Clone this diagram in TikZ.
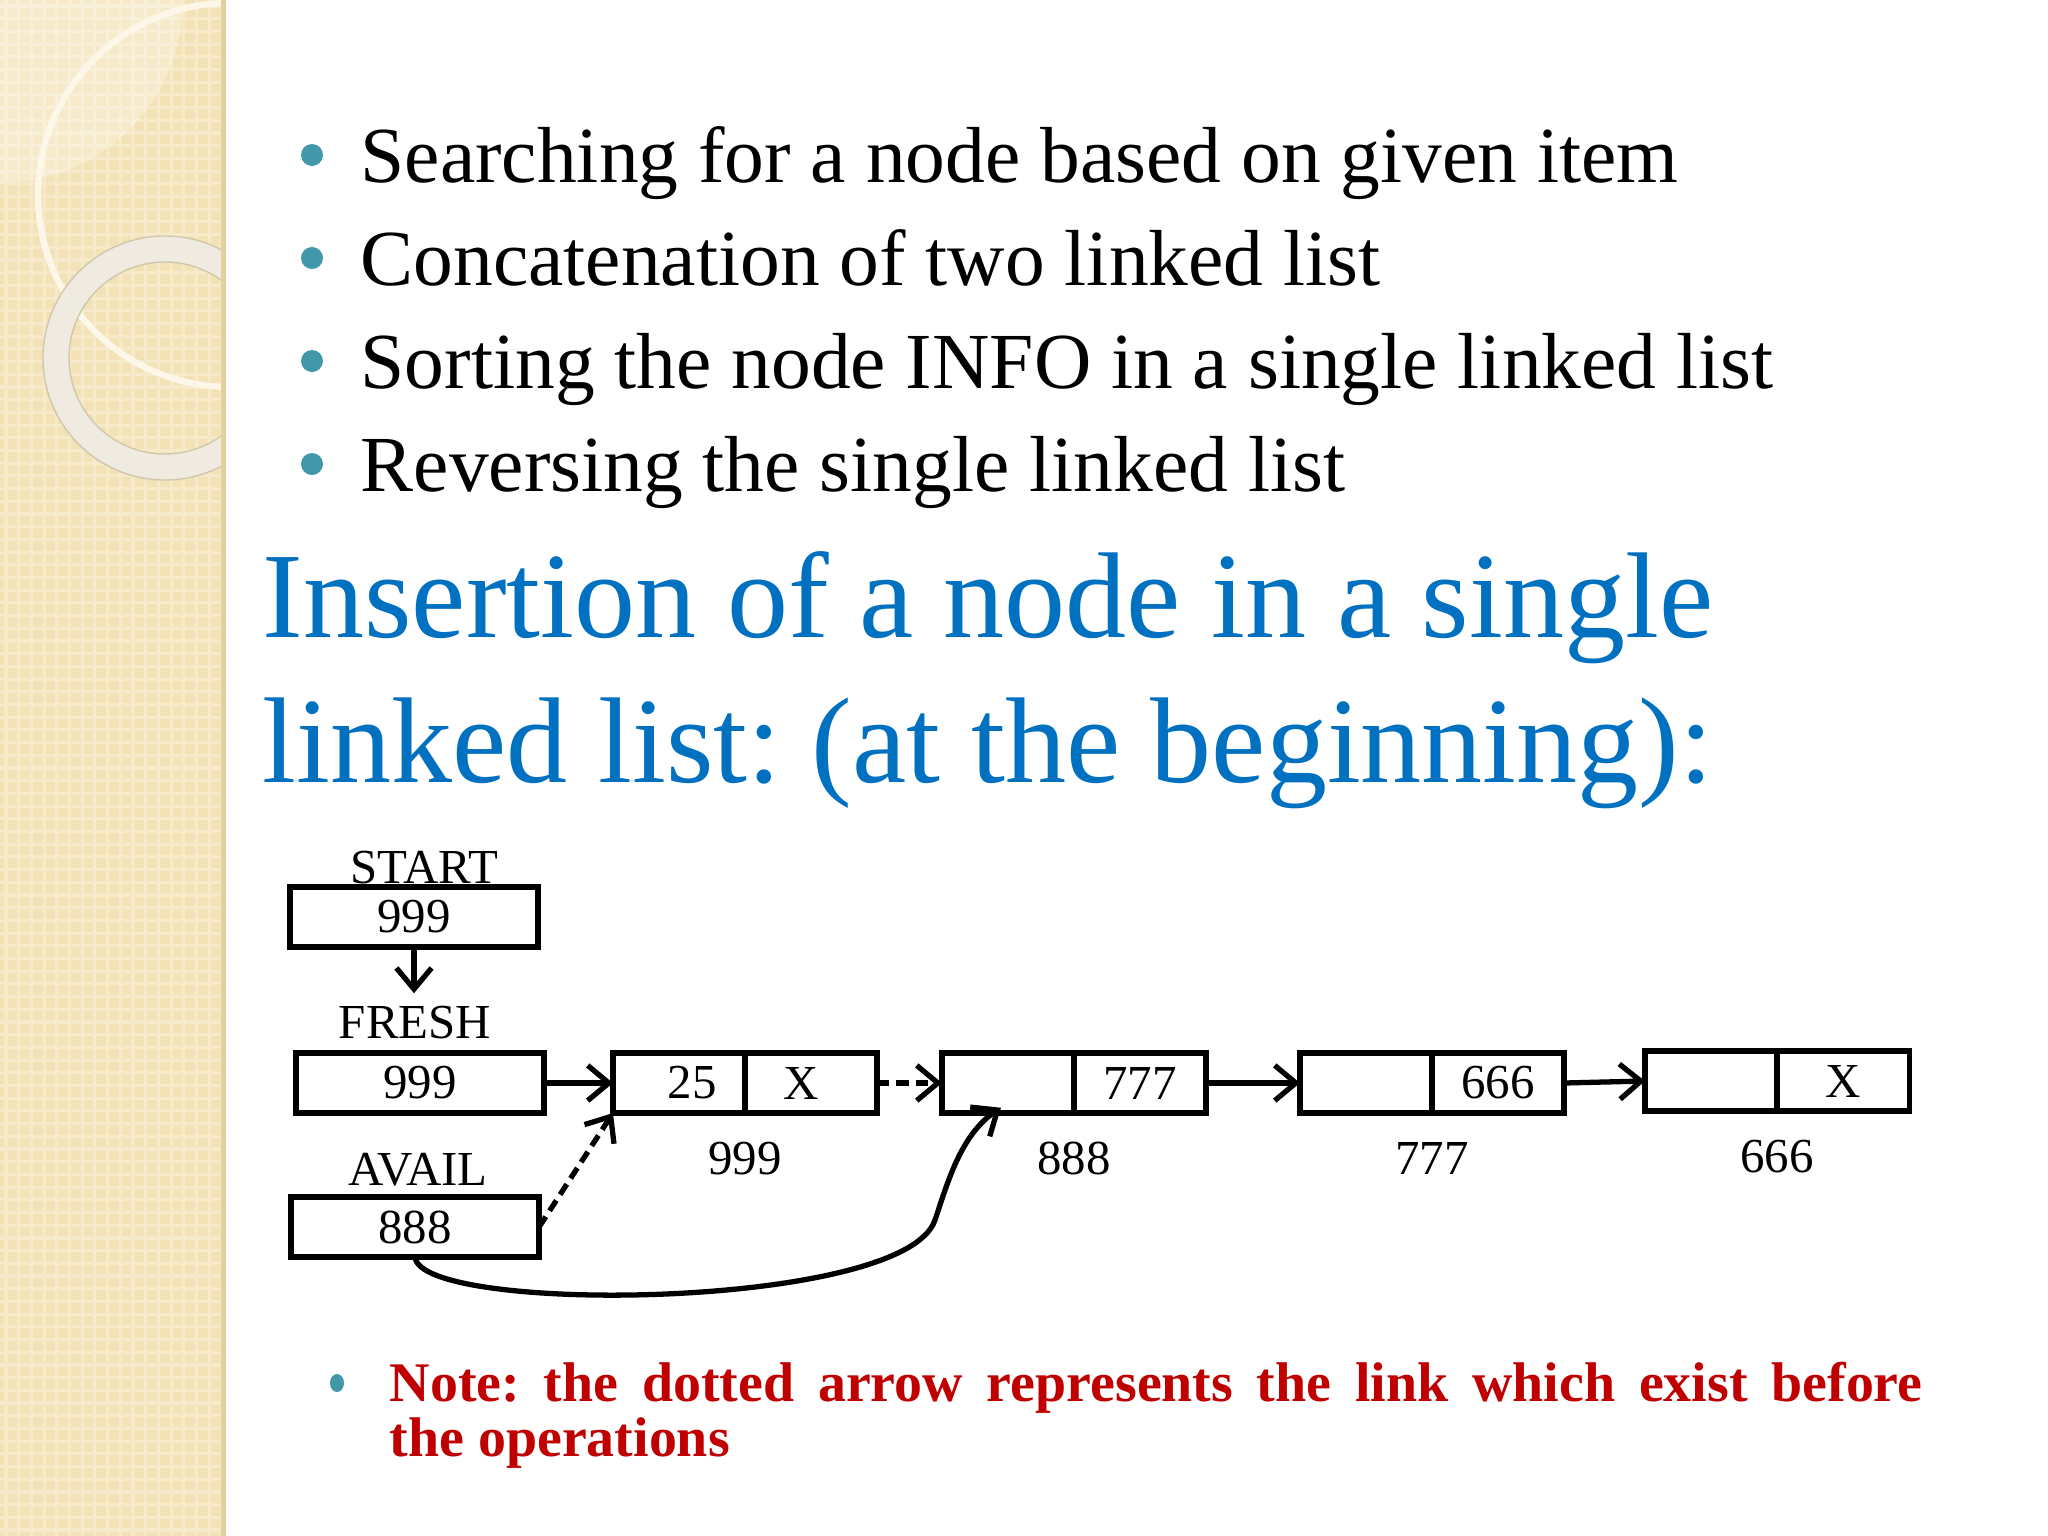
\documentclass[tikz,border=0pt]{standalone}
\usepackage{fontspec}
\setmainfont{Liberation Serif}
\usepackage{tikz}
\usetikzlibrary{positioning,arrows.meta}
\definecolor{stripbeige}{HTML}{F3E2B5}
\definecolor{striplight}{HTML}{F7EACA}
\definecolor{stripedge}{HTML}{E3D09E}
\definecolor{ringwhite}{HTML}{FCF7E9}
\definecolor{ringgrey}{HTML}{EFECE4}
\definecolor{ringedge}{HTML}{D2C7AB}
\definecolor{bullet}{HTML}{4298A8}
\definecolor{titleblue}{HTML}{0070C0}
\definecolor{notered}{HTML}{C00000}
\frenchspacing

\begin{document}
\begin{tikzpicture}[x=0.01cm,y=-0.01cm,
			box/.style={
				draw,
				line width=1.5pt,
				minimum width=2.48cm,
				minimum height=0.6cm,
				inner sep=0pt,
				outer sep=0pt,
				font=\fontsize{13.9}{16}\selectfont
			},
			cell/.style={box,minimum width=1.32cm},
			lbl/.style={anchor=base,font=\fontsize{13.9}{16}\selectfont},
			item/.style={anchor=base west,inner sep=0pt,font=\fontsize{22.6}{26}\selectfont},
			title/.style={anchor=base west,inner sep=0pt,text=titleblue,font=\fontsize{34.7}{40}\selectfont},
			arrow/.style={-{Straight Barb[length=6pt,width=10pt]},line width=1.5pt},
			oldlink/.style={arrow,dash pattern=on 3.5pt off 2pt}
			]
			
			\useasboundingbox (0,0) rectangle (2048,1536);
			\fill[white] (0,0) rectangle (2048,1536);
			
			% left strip
			\fill[stripbeige] (0,0) rectangle (225,1536);
			\begin{scope}
				\clip (0,0) rectangle (225,1536);
				\foreach \k in {0,...,120}
				\draw[striplight,line width=0.9pt] (0,\k*12.7+6) -- (225,\k*12.7+6);
				\foreach \k in {0,...,17}
				\draw[striplight,line width=0.9pt] (\k*12.7+6,0) -- (\k*12.7+6,1536);
				\fill[white,opacity=0.3] (0,0) circle (183);
				\draw[ringwhite,line width=1.8pt] (230,195) circle (192);
				\draw[ringgrey,line width=7.4pt,opacity=0.92] (165,358) circle (109);
				\draw[ringedge,line width=0.4pt] (165,358) circle (122) (165,358) circle (96);
			\end{scope}
			\fill[stripedge] (221,0) rectangle (226,1536);
			
			% bullet list
			\foreach \y/\t in {182/Searching for a node based on given item,
				285/Concatenation of two linked list,
				388/Sorting the node INFO in a single linked list,
				491/Reversing the single linked list}{
				\fill[bullet] (312,\y-27) circle (11);
				\node[item] (item\y) at (360,\y) {\t};
			}
			
			\node[title] (title1) at (262,637) {Insertion of a node in a single};
			\node[title] (title2) at (262,782) {linked list: (at the beginning):};
			
			% pointers
			\node[lbl] (startlbl) at (424,883) {START};
			\node[box] (start) at (414,917) {999};
			\node[lbl] (freshlbl) at (415,1038) {FRESH};
			\node[box] (fresh) at (420,1083) {999};
			\node[lbl] (availlbl) at (418,1185) {AVAIL};
			\node[box] (avail) at (415,1227) {888};
			
			% list nodes
			\node[cell] (a1) at (679,1083) {\hspace*{0.26cm}25};
			\node[cell,right=0pt of a1] (a2) {X\hspace*{0.2cm}};
			\node[cell] (b1) at (1008,1083) {};
			\node[cell,right=0pt of b1] (b2) {777};
			\node[cell] (c1) at (1366,1083) {};
			\node[cell,right=0pt of c1] (c2) {666};
			\node[cell] (d1) at (1711,1081) {};
			\node[cell,right=0pt of d1] (d2) {X};
			
			\foreach \n/\t in {a/999,b/888,c/777,d/666}
			\node[lbl] (addr\n) at ([yshift=-17.6pt]\n1.south east) {\t};
			
			\draw[arrow] (start.south) -- (start.south |- freshlbl.north);
			\draw[arrow] (fresh.east) -- (a1.west);
			\draw[oldlink] (a2.east) -- (b1.west);
			\draw[arrow] (b2.east) -- (c1.west);
			\draw[arrow] (c2.east) -- (d1.west);
			\draw[oldlink] (avail.east) -- (a1.south west);
			\draw[arrow] (avail.south) .. controls (420,1315) and (905,1310) .. (935,1220)
			.. controls (947,1185) and (960,1135) .. ([xshift=-2pt,yshift=1.5pt]b1.south);
			
			% note
			\fill[bullet] (337,1383) ellipse (7 and 9);
			\node[anchor=north west,inner sep=0pt,text width=15.32cm,align=justify,text=notered,
			font=\bfseries\fontsize{15.9}{15.65}\selectfont] (note) at (389,1361)
			{\hyphenpenalty=10000 Note: the dotted arrow represents the link which exist before\linebreak the operations};
			
		\end{tikzpicture}
\end{document}
